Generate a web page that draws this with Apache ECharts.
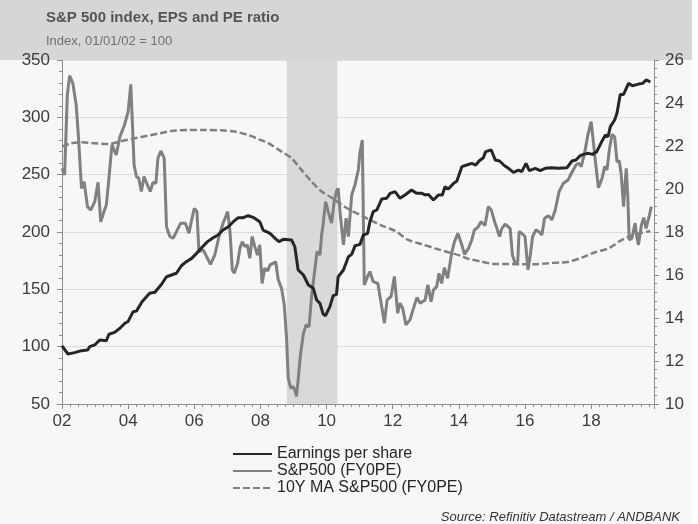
<!DOCTYPE html>
<html>
<head>
<meta charset="utf-8">
<script src="https://cdn.jsdelivr.net/npm/echarts@6/dist/echarts.min.js"></script>
<style>
  html, body { margin: 0; padding: 0; background: #ffffff; }
  #chart { width: 698px; height: 524px; }
</style>
</head>
<body>
<div id="chart"></div>
<script>
// Earnings per share (index, left axis)
var epsX = [2002.0, 2002.18, 2002.38, 2002.59, 2002.77, 2002.84, 2002.99, 2003.14, 2003.34, 2003.42, 2003.59, 2003.75, 2003.9, 2004.0, 2004.15, 2004.25, 2004.42, 2004.65, 2004.81,
  2005.01, 2005.16, 2005.31, 2005.46, 2005.61, 2005.76, 2005.92, 2006.07, 2006.22, 2006.4, 2006.57, 2006.72, 2006.87, 2007.03, 2007.18, 2007.33, 2007.48, 2007.63, 2007.78, 2007.98,
  2008.08, 2008.29, 2008.44, 2008.56, 2008.69, 2008.94, 2009.04, 2009.14, 2009.3, 2009.45, 2009.6, 2009.7, 2009.8, 2009.9, 2009.97, 2010.1, 2010.2, 2010.3, 2010.35, 2010.51, 2010.66, 2010.76, 2010.86,
  2011.01, 2011.11, 2011.24, 2011.31, 2011.41, 2011.52, 2011.67, 2011.82, 2011.92, 2012.07, 2012.22, 2012.37, 2012.57, 2012.72, 2012.88, 2012.98, 2013.08, 2013.23, 2013.38, 2013.5, 2013.58, 2013.68, 2013.84, 2013.94,
  2014.09, 2014.24, 2014.39, 2014.51, 2014.61, 2014.74, 2014.81, 2014.98, 2015.1, 2015.23, 2015.38, 2015.5, 2015.65, 2015.8, 2015.9, 2016.03, 2016.13, 2016.31, 2016.46, 2016.61, 2016.81,
  2017.01, 2017.27, 2017.42, 2017.54, 2017.67, 2017.77, 2017.92, 2018.04, 2018.17, 2018.22, 2018.33, 2018.43, 2018.51, 2018.58, 2018.71, 2018.78, 2018.88, 2018.98, 2019.13, 2019.25, 2019.43, 2019.56, 2019.66, 2019.79];
var epsY = [100.6, 93.6, 94.8, 96.5, 97, 100, 101.5, 105.8, 105.2, 110.8, 112.5, 116, 120.4, 122, 130.5, 131, 139.2, 146.5, 147.4,
  154.4, 161, 162.5, 164, 170.6, 174.1, 177, 181.4, 186.3, 191.6, 195, 197.4, 201.7, 204.6, 209, 212.5, 212.5, 214.2, 212.8, 209,
  201.7, 198.8, 194.5, 191.6, 193.6, 193, 187.2, 166.9, 162.5, 153.8, 150.9, 140.7, 137.8, 128.2, 127, 134.9, 144.5, 145.6, 161, 166.9, 178.5, 180.5, 188,
  189.2, 197.4, 198.8, 209, 217.7, 219.2, 228.8, 229.4, 233.7, 235.2, 229.4, 232.3, 236.6, 233.7, 233.7, 232.3, 232.8, 227.9, 232.3, 232.3, 239.5, 237.5, 242.4, 244.5,
  257, 258.4, 259.9, 258.4, 261.9, 264.8, 270.1, 271.5, 262.8, 261.9, 257.8, 255.5, 252, 254, 252.6, 259.9, 253.5, 255.5, 253.5, 255.5, 256.1,
  255.5, 256.1, 261.9, 262.8, 266.6, 267.7, 268.6, 267.7, 270.1, 268.6, 279.4, 284.6, 283.2, 291.9, 297.7, 303.5, 320, 320, 329.6, 327.6, 329, 329.6, 332.6, 331];

// S&P500 forward PE (right axis)
var peX = [2002.0, 2002.08, 2002.16, 2002.23, 2002.33, 2002.43, 2002.5, 2002.59, 2002.67, 2002.77, 2002.87, 2002.99, 2003.09, 2003.17, 2003.27, 2003.34, 2003.41, 2003.51, 2003.64, 2003.75, 2003.89, 2003.92,
  2004.0, 2004.08, 2004.18, 2004.25, 2004.32, 2004.4, 2004.48, 2004.58, 2004.67, 2004.75, 2004.84, 2004.9, 2004.99, 2005.09, 2005.16, 2005.26, 2005.36, 2005.46, 2005.59, 2005.73, 2005.84, 2005.92,
  2006.0, 2006.08, 2006.14, 2006.27, 2006.37, 2006.49, 2006.62, 2006.77, 2006.87, 2007.01, 2007.08, 2007.15, 2007.21, 2007.31, 2007.38, 2007.45, 2007.53, 2007.6, 2007.68, 2007.75, 2007.83, 2007.91, 2007.98,
  2008.05, 2008.13, 2008.22, 2008.29, 2008.39, 2008.46, 2008.54, 2008.64, 2008.72, 2008.79, 2008.84, 2008.92, 2008.99, 2009.04, 2009.09, 2009.14, 2009.21, 2009.3, 2009.38, 2009.47, 2009.55, 2009.65, 2009.71, 2009.8, 2009.85, 2009.9, 2009.97,
  2010.05, 2010.15, 2010.23, 2010.3, 2010.35, 2010.41, 2010.51, 2010.59, 2010.66, 2010.76, 2010.86, 2010.96, 2011.01, 2011.08, 2011.14, 2011.24, 2011.31, 2011.41, 2011.55, 2011.65, 2011.75, 2011.83, 2011.95,
  2012.05, 2012.15, 2012.22, 2012.3, 2012.4, 2012.52, 2012.63, 2012.73, 2012.83, 2012.98, 2013.06, 2013.16, 2013.23, 2013.33, 2013.4, 2013.48, 2013.56, 2013.66, 2013.79, 2013.87, 2013.97,
  2014.09, 2014.17, 2014.29, 2014.39, 2014.47, 2014.57, 2014.67, 2014.79, 2014.89, 2014.98, 2015.08, 2015.15, 2015.23, 2015.3, 2015.4, 2015.55, 2015.62, 2015.7, 2015.78, 2015.82, 2015.9,
  2016.0, 2016.09, 2016.16, 2016.23, 2016.33, 2016.41, 2016.51, 2016.59, 2016.71, 2016.81, 2016.91, 2017.03, 2017.16, 2017.3, 2017.42, 2017.54, 2017.62, 2017.7, 2017.82, 2017.9,
  2018.0, 2018.07, 2018.14, 2018.22, 2018.33, 2018.41, 2018.48, 2018.55, 2018.63, 2018.71, 2018.78, 2018.85, 2018.91, 2018.98, 2019.06, 2019.11, 2019.15, 2019.23, 2019.33, 2019.37, 2019.43, 2019.52, 2019.59, 2019.66, 2019.74, 2019.82];
var peY = [20.96, 20.65, 24.37, 25.27, 24.9, 23.9, 22.36, 20.03, 20.34, 19.18, 19.02, 19.41, 20.31, 18.48, 18.95, 19.26, 20.34, 22.05, 21.58, 22.43, 22.98, 22.95,
  23.6, 24.87, 21.12, 20.58, 20.5, 19.88, 20.58, 20.19, 19.88, 20.31, 20.27, 21.43, 21.77, 21.43, 18.25, 17.79, 17.71, 18.02, 18.41, 18.41, 17.94, 18.56,
  19.1, 18.95, 17.09, 17.17, 16.86, 16.5, 16.93, 17.94, 18.41, 18.95, 18.02, 16.24, 16.08, 16.55, 17.24, 17.55, 17.32, 17.4, 16.78, 17.79, 17.32, 16.93, 17.4,
  15.61, 16.31, 16.19, 16.47, 16.55, 16.62, 15.77, 15.38, 14.61, 13.06, 11.2, 10.73, 10.81, 10.66, 10.35, 11.12, 12.28, 13.29, 13.68, 13.6, 15.07, 16.31, 17.09, 16.93, 17.86, 18.41, 19.41,
  18.95, 18.41, 19.41, 19.91, 20.03, 18.87, 17.4, 18.64, 17.79, 19.72, 20.2, 20.89, 21.7, 22.28, 15.54, 15.93, 16.16, 15.69, 15.61, 14.69, 13.76, 14.84, 15.0,
  15.93, 14.22, 14.69, 14.46, 13.68, 13.91, 14.46, 14.95, 14.69, 14.84, 15.54, 14.76, 15.3, 15.46, 16.08, 15.61, 16.34, 15.85, 17.09, 17.55, 17.94,
  17.4, 16.96, 17.24, 17.63, 18.1, 18.21, 18.48, 18.3, 19.18, 19.02, 18.48, 18.17, 17.79, 18.17, 18.36, 18.17, 16.93, 16.55, 16.62, 18.02, 17.94,
  17.79, 16.24, 16.93, 17.79, 18.1, 18.02, 17.86, 18.64, 18.76, 18.56, 19.0, 19.88, 20.27, 20.42, 20.78, 21.12, 21.2, 21.04, 21.82, 22.51,
  23.13, 22.13, 21.12, 20.06, 20.5, 21.04, 20.89, 21.82, 22.54, 22.43, 21.27, 21.3, 20.65, 19.18, 20.96, 19.57, 17.63, 17.71, 18.41, 17.86, 17.4, 18.33, 18.67, 18.17, 18.64, 19.18];

// 10Y moving average of PE (right axis)
var maX = [2002.0, 2002.28, 2002.59, 2002.99, 2003.39, 2003.8, 2004.2, 2004.6, 2004.96, 2005.31, 2005.81, 2006.32, 2006.82, 2007.23, 2007.63, 2007.98,
  2008.24, 2008.64, 2008.94, 2009.24, 2009.55, 2009.85, 2010.15, 2010.46, 2010.76, 2011.01, 2011.26, 2011.67, 2012.07, 2012.47, 2012.88, 2013.28, 2013.68,
  2014.04, 2014.29, 2014.69, 2015.1, 2015.5, 2015.9, 2016.31, 2016.71, 2017.06, 2017.32, 2017.72, 2018.12, 2018.53, 2018.93, 2019.33, 2019.79];
var maY = [21.97, 22.13, 22.17, 22.13, 22.09, 22.23, 22.36, 22.48, 22.59, 22.7, 22.74, 22.74, 22.73, 22.67, 22.51, 22.3,
  22.13, 21.74, 21.43, 20.89, 20.34, 19.88, 19.6, 19.26, 18.98, 18.8, 18.61, 18.3, 18.05, 17.63, 17.43, 17.24, 17.06,
  16.9, 16.75, 16.62, 16.51, 16.51, 16.5, 16.5, 16.55, 16.58, 16.62, 16.81, 17.06, 17.24, 17.63, 17.89, 18.05];

var recession = [2008.8, 2010.33];
var seriesNames = ['Earnings per share', 'S&P500 (FY0PE)', '10Y MA S&P500 (FY0PE)'];

function pairs(xs, ys) {
  return xs.map(function (x, i) { return [x, ys[i]]; });
}

var font = 'Liberation Sans, Arial, sans-serif';
var chart = echarts.init(document.getElementById('chart'));

var option = {
  backgroundColor: '#f7f7f7',
  animation: false,
  textStyle: { fontFamily: font },
  graphic: [
    { type: 'rect', z: -10, shape: { x: 0, y: 0, width: 692, height: 60 }, style: { fill: '#d6d6d6' } },
    { type: 'rect', z: -10, shape: { x: 692, y: 0, width: 6, height: 524 }, style: { fill: '#ffffff' } },
    { type: 'text', z: 100, left: 46, top: 10,
      style: { text: 'S&P 500 index, EPS and PE ratio', fill: '#555555', font: 'bold 15px ' + font } },
    { type: 'text', z: 100, left: 46, top: 35,
      style: { text: 'Index, 01/01/02 = 100', fill: '#707070', font: '13px ' + font } },
    { type: 'text', z: 100, right: 18, top: 511,
      style: { text: 'Source: Refinitiv Datastream / ANDBANK', fill: '#333333', font: 'italic 13px ' + font } }
  ],
  grid: { left: 62, right: 44, top: 60, bottom: 120 },
  legend: {
    orient: 'vertical',
    left: 232,
    top: 446,
    padding: 0,
    itemGap: 1,
    itemWidth: 39,
    itemHeight: 14,
    data: seriesNames,
    itemStyle: { opacity: 0 },
    textStyle: { color: '#262626', fontSize: 16, fontFamily: font }
  },
  xAxis: {
    type: 'value',
    min: 2002,
    max: 2019.9,
    interval: 2,
    axisLine: { show: true, onZero: false, lineStyle: { color: '#8c8c8c' } },
    axisTick: { show: true, length: 5, lineStyle: { color: '#8c8c8c' } },
    minorTick: { show: true, splitNumber: 8, length: 3, lineStyle: { color: '#8c8c8c' } },
    splitLine: { show: false },
    axisLabel: {
      color: '#3c3c3c', fontSize: 17, margin: 9, showMaxLabel: false,
      formatter: function (v) { return Number.isInteger(v) ? String(v % 100).padStart(2, '0') : ''; }
    }
  },
  yAxis: [
    {
      type: 'value', min: 50, max: 350, interval: 50, position: 'left',
      axisLine: { show: true, lineStyle: { color: '#8c8c8c' } },
      axisTick: { show: true, length: 5, lineStyle: { color: '#8c8c8c' } },
      minorTick: { show: true, splitNumber: 5, length: 3, lineStyle: { color: '#8c8c8c' } },
      splitLine: { show: true, lineStyle: { color: '#c4c4c4', type: 'dotted' } },
      axisLabel: { color: '#3c3c3c', fontSize: 17, margin: 12 }
    },
    {
      type: 'value', min: 10, max: 26, interval: 2, position: 'right',
      axisLine: { show: true, lineStyle: { color: '#8c8c8c' } },
      axisTick: { show: true, length: 5, lineStyle: { color: '#8c8c8c' } },
      minorTick: { show: true, splitNumber: 5, length: 3, lineStyle: { color: '#8c8c8c' } },
      splitLine: { show: false },
      axisLabel: { color: '#3c3c3c', fontSize: 17, margin: 11 }
    }
  ],
  series: [
    {
      name: seriesNames[2],
      type: 'line',
      yAxisIndex: 1,
      symbol: 'none',
      smooth: 0.3,
      lineStyle: { color: '#808080', width: 2.5, type: [7, 3] },
      itemStyle: { color: '#808080' },
      data: pairs(maX, maY),
      markArea: {
        silent: true,
        itemStyle: { color: '#d9d9d9' },
        data: [[{ xAxis: recession[0] }, { xAxis: recession[1] }]]
      }
    },
    {
      name: seriesNames[1],
      type: 'line',
      yAxisIndex: 1,
      symbol: 'none',
      lineStyle: { color: '#808080', width: 3 },
      itemStyle: { color: '#808080' },
      data: pairs(peX, peY)
    },
    {
      name: seriesNames[0],
      type: 'line',
      yAxisIndex: 0,
      symbol: 'none',
      lineStyle: { color: '#262626', width: 3 },
      itemStyle: { color: '#262626' },
      data: pairs(epsX, epsY)
    }
  ]
};

chart.setOption(option);
</script>
</body>
</html>
